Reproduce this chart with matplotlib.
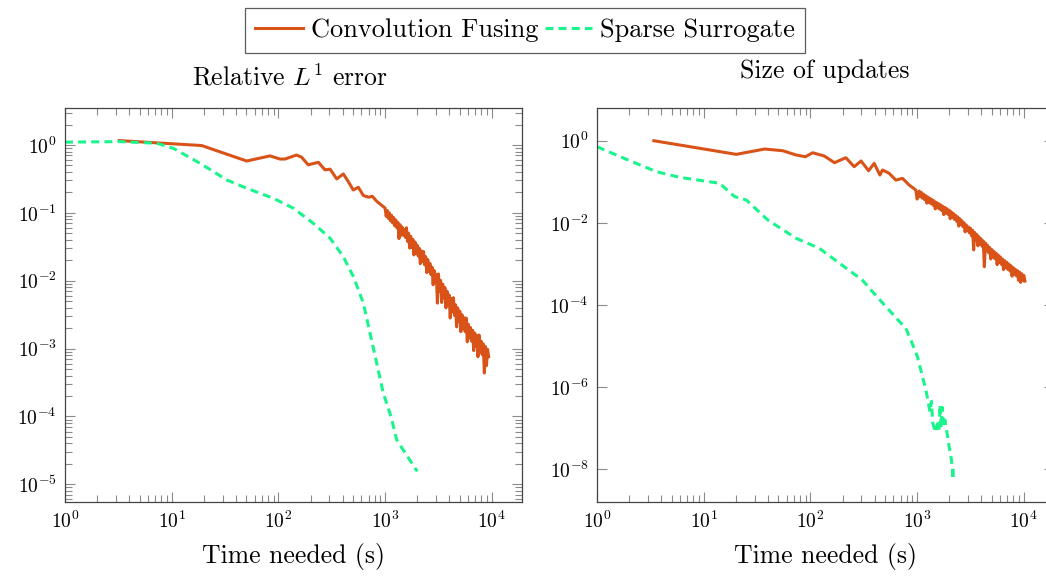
import numpy as np
import matplotlib as mpl
mpl.use('Agg')
import matplotlib.pyplot as plt
from matplotlib.ticker import LogLocator, NullLocator, NullFormatter

mpl.rcParams['font.family'] = 'serif'
mpl.rcParams['font.serif'] = ['cmr10']
mpl.rcParams['mathtext.fontset'] = 'cm'
mpl.rcParams['axes.formatter.use_mathtext'] = True

ORANGE = '#D95319'
GREEN = '#19F58C'

# ---- left panel: relative L1 error ----
t_conv_err_head = [3.23, 19.1, 50.4, 83.4, 103.5, 115, 148, 165, 190, 237, 273, 305, 352, 406,
                   452, 503, 561, 625, 697, 760, 834, 896]
conv_err_head = [1.16, 0.98, 0.58, 0.69, 0.62, 0.62, 0.71, 0.66, 0.51, 0.555, 0.43, 0.44, 0.316,
                 0.374, 0.288, 0.217, 0.238, 0.18, 0.17, 0.175, 0.148, 0.135]
# noisy tail, read in decades (log10 of time, log10 of error)
log_t_conv_err_tail = [3.00, 3.01, 3.02, 3.03, 3.04, 3.05, 3.06, 3.07, 3.08, 3.09,
                       3.10, 3.11, 3.12, 3.13, 3.14, 3.15, 3.16, 3.17, 3.18, 3.19,
                       3.20, 3.21, 3.22, 3.23, 3.24, 3.25, 3.26, 3.27, 3.28, 3.29,
                       3.30, 3.31, 3.32, 3.33, 3.34, 3.35, 3.36, 3.37, 3.38, 3.39,
                       3.40, 3.41, 3.42, 3.43, 3.44, 3.45, 3.46, 3.47, 3.48, 3.49,
                       3.50, 3.51, 3.52, 3.53, 3.54, 3.55, 3.56, 3.57, 3.58, 3.59,
                       3.60, 3.61, 3.62, 3.63, 3.64, 3.65, 3.66, 3.67, 3.68, 3.69,
                       3.70, 3.71, 3.72, 3.73, 3.74, 3.75, 3.76, 3.77, 3.78, 3.79,
                       3.80, 3.81, 3.82, 3.83, 3.84, 3.85, 3.86, 3.87, 3.88, 3.89,
                       3.90, 3.91, 3.92, 3.93, 3.94, 3.95, 3.96, 3.97]
log_conv_err_tail = [-0.93, -1.05, -0.965, -1.08, -1.00, -1.12, -1.035, -1.15, -1.07, -1.19,
                     -1.105, -1.22, -1.14, -1.38, -1.175, -1.33, -1.21, -1.33, -1.245, -1.36,
                     -1.22, -1.42, -1.30, -1.52, -1.345, -1.51, -1.39, -1.62, -1.43, -1.59,
                     -1.475, -1.635, -1.52, -1.75, -1.56, -1.72, -1.57, -1.765, -1.645, -1.88,
                     -1.69, -1.86, -1.745, -1.91, -1.80, -2.06, -1.85, -2.02, -1.905, -2.33,
                     -1.90, -2.15, -1.995, -2.32, -2.05, -2.255, -2.10, -2.40, -2.155, -2.36,
                     -2.21, -2.55, -2.26, -2.46, -2.25, -2.51, -2.355, -2.68, -2.40, -2.605,
                     -2.45, -2.75, -2.50, -2.70, -2.545, -2.75, -2.55, -2.90, -2.64, -2.845,
                     -2.69, -2.89, -2.73, -3.03, -2.77, -2.97, -2.81, -3.12, -2.80, -3.05,
                     -2.89, -3.09, -2.93, -3.36, -2.97, -3.25, -3.01, -3.12]

t_surr_err = [1.0, 3.28, 7.23, 10.4, 18.4, 32.8, 50.5, 89.6, 138, 212, 305, 406, 504, 625,
              722, 834, 962, 1135, 1285, 2000]
surr_err = [1.1, 1.12, 1.06, 0.89, 0.537, 0.305, 0.23, 0.164, 0.117, 0.0703, 0.0423, 0.0226,
            0.0115, 0.00468, 0.00169, 0.00061, 0.00022, 1.0e-4, 4.5e-5, 1.55e-5]

# ---- right panel: size of updates ----
t_conv_upd_head = [3.41, 20.2, 37.2, 55.1, 73.5, 89.8, 105, 135, 168, 215, 257, 298, 351, 396,
                   448, 474, 547, 632, 729, 842, 973]
conv_upd_head = [1.0, 0.466, 0.628, 0.571, 0.449, 0.408, 0.51, 0.424, 0.292, 0.386, 0.233,
                 0.321, 0.186, 0.281, 0.146, 0.194, 0.161, 0.11, 0.121, 0.0835, 0.063]
log_t_conv_upd_tail = [3.00, 3.01, 3.02, 3.03, 3.04, 3.05, 3.06, 3.07, 3.08, 3.09,
                       3.10, 3.11, 3.12, 3.13, 3.14, 3.15, 3.16, 3.17, 3.18, 3.19,
                       3.20, 3.21, 3.22, 3.23, 3.24, 3.25, 3.26, 3.27, 3.28, 3.29,
                       3.30, 3.31, 3.32, 3.33, 3.34, 3.35, 3.36, 3.37, 3.38, 3.39,
                       3.40, 3.41, 3.42, 3.43, 3.44, 3.45, 3.46, 3.47, 3.48, 3.49,
                       3.50, 3.51, 3.52, 3.53, 3.54, 3.55, 3.56, 3.57, 3.58, 3.59,
                       3.60, 3.61, 3.62, 3.63, 3.64, 3.65, 3.66, 3.67, 3.68, 3.69,
                       3.70, 3.71, 3.72, 3.73, 3.74, 3.75, 3.76, 3.77, 3.78, 3.79,
                       3.80, 3.81, 3.82, 3.83, 3.84, 3.85, 3.86, 3.87, 3.88, 3.89,
                       3.90, 3.91, 3.92, 3.93, 3.94, 3.95, 3.96, 3.97, 3.98, 3.99,
                       4.00, 4.01]
log_conv_upd_tail = [-1.42, -1.33, -1.225, -1.365, -1.26, -1.40, -1.30, -1.435, -1.335, -1.52,
                     -1.37, -1.505, -1.40, -1.535, -1.435, -1.57, -1.465, -1.66, -1.50, -1.635,
                     -1.53, -1.665, -1.56, -1.70, -1.595, -1.80, -1.625, -1.76, -1.66, -1.795,
                     -1.69, -1.90, -1.73, -1.875, -1.77, -1.915, -1.815, -1.96, -1.855, -2.08,
                     -1.90, -2.045, -1.95, -2.095, -2.00, -2.22, -2.05, -2.195, -2.10, -2.245,
                     -2.13, -2.315, -2.18, -2.66, -2.235, -2.42, -2.285, -2.56, -2.34, -2.52,
                     -2.39, -2.575, -2.44, -3.07, -2.49, -2.68, -2.545, -2.73, -2.60, -2.88,
                     -2.65, -2.83, -2.695, -2.875, -2.74, -3.02, -2.785, -2.965, -2.83, -3.01,
                     -2.88, -3.14, -2.92, -3.09, -2.96, -3.135, -3.005, -3.175, -3.045, -3.30,
                     -3.09, -3.25, -3.13, -3.29, -3.165, -3.40, -3.20, -3.45, -3.24, -3.40,
                     -3.28, -3.42]

t_surr_upd = [1.0, 1.89, 3.61, 5.97, 14.1, 19.5, 25.1, 39.9, 73.5, 121, 187, 308, 382, 510,
              705, 784, 873, 1007, 1122, 1202, 1259, 1318, 1365, 1396, 1479, 1549, 1603, 1641,
              1679, 1718, 1758, 1820, 1905, 1995, 2089, 2138, 2163, 2188]
surr_upd = [0.714, 0.352, 0.176, 0.128, 0.092, 0.0434, 0.036, 0.0117, 0.0042, 0.0024,
            0.00104, 0.0004, 0.00021, 9.1e-5, 3.6e-5, 2.7e-5, 1.4e-5, 5.5e-6, 1.8e-6, 8.9e-7,
            5.0e-7, 2.5e-7, 4.5e-7, 1.4e-7, 7.9e-8, 1.26e-7, 8.9e-8, 3.7e-7, 1.0e-7, 3.2e-7,
            1.1e-7, 1.58e-7, 7.9e-8, 3.5e-8, 1.8e-8, 1.1e-8, 5.6e-9, 1.26e-8]

t_conv_err = np.concatenate([t_conv_err_head, 10.0 ** np.array(log_t_conv_err_tail)])
conv_err = np.concatenate([conv_err_head, 10.0 ** np.array(log_conv_err_tail)])
t_conv_upd = np.concatenate([t_conv_upd_head, 10.0 ** np.array(log_t_conv_upd_tail)])
conv_upd = np.concatenate([conv_upd_head, 10.0 ** np.array(log_conv_upd_tail)])

fig = plt.figure(figsize=(10.46, 5.77), dpi=100)
ax1 = fig.add_axes([65 / 1046, 75 / 577, 456.7 / 1046, 393.7 / 577])
ax2 = fig.add_axes([597 / 1046, 75 / 577, 456.7 / 1046, 393.7 / 577])

lw = 2.2
for ax, tc, yc, ts, ys in [(ax1, t_conv_err, conv_err, t_surr_err, surr_err),
                           (ax2, t_conv_upd, conv_upd, t_surr_upd, surr_upd)]:
    ax.plot(tc, yc, color=ORANGE, lw=lw, label='Convolution Fusing')
    ax.plot(ts, ys, color=GREEN, lw=lw, dashes=(2.6, 1.7), label='Sparse Surrogate')
    ax.set_xscale('log')
    ax.set_yscale('log')
    ax.set_xlim(1, 10 ** 4.28)
    ax.xaxis.set_major_locator(LogLocator(base=10, numticks=20))
    ax.xaxis.set_minor_locator(LogLocator(base=10, subs=np.arange(2, 10), numticks=20))
    ax.xaxis.set_minor_formatter(NullFormatter())
    ax.tick_params(which='both', direction='in', top=True, right=True, color='#8a8a8a',
                   width=0.8, labelsize=14, pad=6)
    ax.tick_params(which='major', length=7.5)
    ax.tick_params(which='minor', length=5)
    for s in ax.spines.values():
        s.set_color('#444444')
        s.set_linewidth(0.9)
    ax.set_xlabel('Time needed (s)', fontsize=18.5, labelpad=8)

ax1.set_ylim(10 ** -5.26, 10 ** 0.54)
ax1.yaxis.set_major_locator(LogLocator(base=10, numticks=20))
ax1.yaxis.set_minor_locator(LogLocator(base=10, subs=np.arange(2, 10), numticks=20))
ax1.yaxis.set_minor_formatter(NullFormatter())

ax2.set_ylim(10 ** -8.8, 10 ** 0.79)
ax2.set_yticks([1e-8, 1e-6, 1e-4, 1e-2, 1e0])
ax2.yaxis.set_minor_locator(NullLocator())

fig.text(290 / 1046, 1 - 86 / 577, r'Relative $L^1$ error', fontsize=18.5,
         ha='center', va='baseline')
fig.text(825 / 1046, 1 - 78 / 577, 'Size of updates', fontsize=18.5,
         ha='center', va='baseline')

handles, labels = ax1.get_legend_handles_labels()
leg = fig.legend(handles, labels, loc='center', bbox_to_anchor=(525 / 1046, 1 - 30.5 / 577),
                 ncol=2, frameon=True, fancybox=False, edgecolor='#333333', fontsize=19,
                 handlelength=1.8, handletextpad=0.3, columnspacing=0.25, borderpad=0.4,
                 borderaxespad=0)
leg.get_frame().set_linewidth(0.9)

fig.savefig('out.png', dpi=100)
